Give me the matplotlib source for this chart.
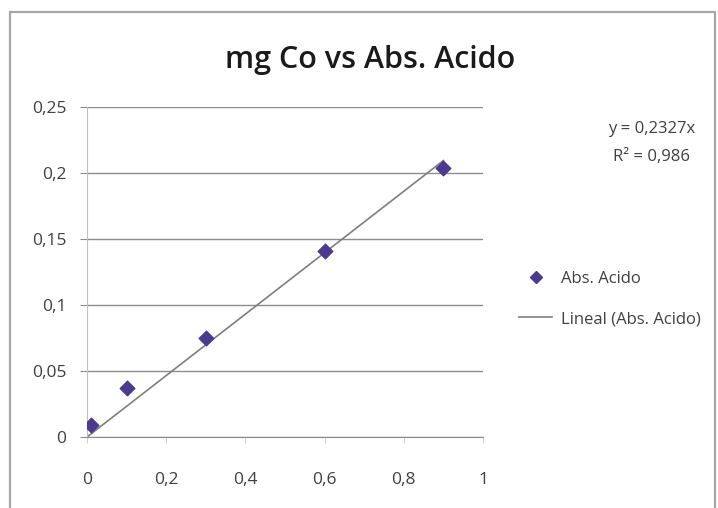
import matplotlib
matplotlib.use("Agg")
import matplotlib.pyplot as plt
from matplotlib.patches import Rectangle
from matplotlib.lines import Line2D
from matplotlib.ticker import FuncFormatter

plt.rcParams['font.family'] = ['Open Sans', 'DejaVu Sans']

# Calibration data: mg Co vs acid absorbance
mg_co = [0.01, 0.1, 0.3, 0.6, 0.9]
abs_acido = [0.009, 0.037, 0.075, 0.141, 0.204]
slope = 0.2327
r2 = 0.986
trend_x = [0.0, 0.9]

x_ticks = [0, 0.2, 0.4, 0.6, 0.8, 1]
y_ticks = [0, 0.05, 0.1, 0.15, 0.2, 0.25]

W, H = 718, 508
fig = plt.figure(figsize=(W / 100, H / 100), dpi=100)

# chart frame
fig.patches.append(Rectangle((10 / W, -0.02), (715 - 10) / W, 1.02 - 12 / H,
                             transform=fig.transFigure, fill=False,
                             edgecolor='#a6a6a6', linewidth=1.6))

ax = fig.add_axes([87 / W, 1 - 437 / H, 396 / W, 330 / H])
ax.set_xlim(0, 1)
ax.set_ylim(0, 0.25)

marker_color = '#4b3a8f'
ax.scatter(mg_co, abs_acido, marker='D', s=55, color=marker_color, zorder=3)
trend_y = [slope * v for v in trend_x]
ax.plot(trend_x, trend_y, color='#7f7f7f', linewidth=1.2, zorder=2)

ax.set_xticks(x_ticks)
ax.set_yticks(y_ticks)

def comma_fmt(v, pos):
    s = ('%.2f' % v).rstrip('0').rstrip('.')
    return s.replace('.', ',')

ax.xaxis.set_major_formatter(FuncFormatter(comma_fmt))
ax.yaxis.set_major_formatter(FuncFormatter(comma_fmt))

ax.grid(axis='y', color='#8c8c8c', linewidth=1.0)
ax.set_axisbelow(True)
for side in ['top', 'right']:
    ax.spines[side].set_visible(False)
ax.spines['left'].set_color('#bfbfbf')
ax.spines['bottom'].set_color('#8c8c8c')
ax.tick_params(axis='y', length=5, color='#8c8c8c', labelsize=12.5,
               labelcolor='#404040', pad=10)
ax.tick_params(axis='x', length=4, color='#d0d0d0', labelsize=12.5,
               labelcolor='#404040', pad=21)

fig.text(370 / W, 1 - 60 / H, 'mg Co vs Abs. Acido', ha='center', va='center',
         fontsize=22, fontweight='semibold', color='#1a1a1a')

eq = 'y = %s' % ('%.4fx' % slope).replace('.', ',')
r2txt = 'R² = %s' % ('%.3f' % r2).replace('.', ',')
fig.text(695 / W, 1 - 129 / H, eq, ha='right', va='center',
         fontsize=12, color='#404040')
fig.text(690 / W, 1 - 157 / H, r2txt, ha='right', va='center',
         fontsize=12, color='#404040')

handles = [Line2D([], [], marker='D', linestyle='none', color=marker_color,
                  markersize=6),
           Line2D([], [], color='#7f7f7f', linewidth=1.2)]
fig.legend(handles, ['Abs. Acido', 'Lineal (Abs. Acido)'],
           loc='center left', bbox_to_anchor=(519 / W, 1 - 299 / H),
           frameon=False, fontsize=12, labelcolor='#404040',
           handlelength=2.0, handletextpad=0.5, labelspacing=1.45,
           borderaxespad=0, borderpad=0)

fig.savefig('out.png', dpi=100)
